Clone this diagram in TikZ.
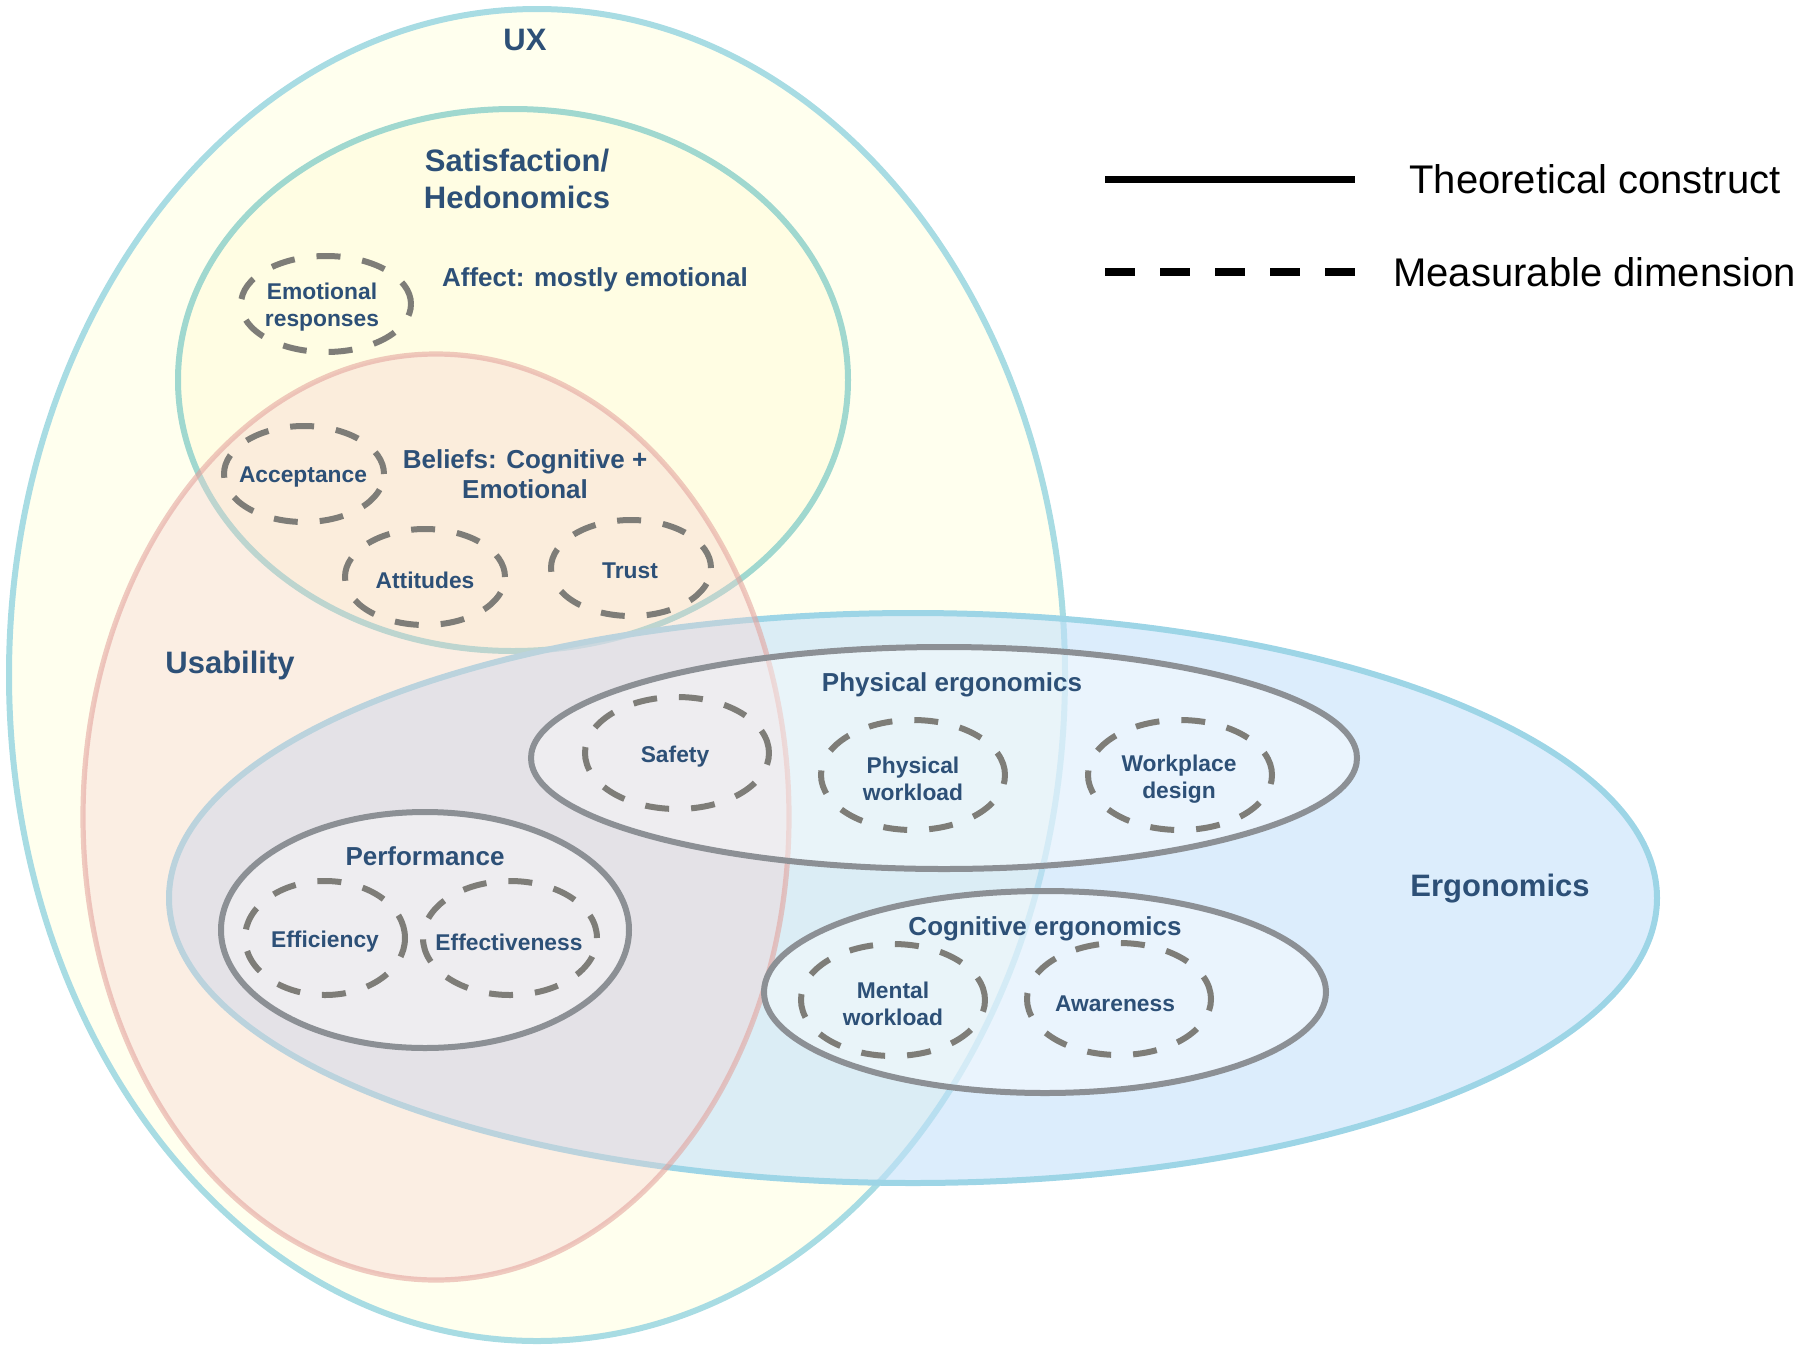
\documentclass[tikz,border=0pt]{standalone}
\usepackage{fontspec}
\setmainfont{Liberation Sans}
\usetikzlibrary{shapes.geometric}
\definecolor{uxfill}{HTML}{FFFFEE}
\definecolor{uxline}{HTML}{A8DCE3}
\definecolor{satfill}{HTML}{FFFDE3}
\definecolor{satline}{HTML}{A0D8CF}
\definecolor{ergofill}{HTML}{C4E1FA}
\definecolor{ergoline}{HTML}{9DD5E6}
\definecolor{usafill}{HTML}{F5D0CF}
\definecolor{usaline}{HTML}{E29F99}
\definecolor{grayline}{HTML}{8C9095}
\definecolor{dashgray}{HTML}{7E7D78}
\definecolor{labblue}{HTML}{2D5077}
\begin{document}
\begin{tikzpicture}[x=0.5pt,y=-0.5pt,
  region/.style={ellipse, inner sep=0pt, outer sep=0pt},
  construct/.style={region, draw=grayline, line width=3pt, fill=white, fill opacity=0.4, draw opacity=1},
  measure/.style={region, draw=dashgray, line width=3pt, dash pattern=on 12pt off 11pt},
  biglab/.style={font=\bfseries\fontsize{15.5}{18.5}\selectfont, text=labblue, align=center, inner sep=0pt, yshift=-2pt},
  midlab/.style={font=\bfseries\fontsize{13}{15.3}\selectfont, text=labblue, align=center, inner sep=0pt, yshift=-2pt},
  smalllab/.style={font=\bfseries\fontsize{11.4}{13.75}\selectfont, text=labblue, align=center, inner sep=0pt, yshift=-1.5pt},
  legtext/.style={font=\fontsize{20}{24}\selectfont, text=black, anchor=west, inner sep=0pt}]
\useasboundingbox (0,0) rectangle (1800,1350);
% main regions
\node[region, fill=uxfill, draw=uxline, line width=3pt, minimum width=528pt, minimum height=666pt] (ux) at (537,675) {};
\node[region, fill=satfill, draw=satline, line width=3pt, minimum width=335pt, minimum height=271pt] (sat) at (513,380) {};
\node[region, fill=ergofill, fill opacity=0.6, draw=ergoline, draw opacity=1, line width=3pt, minimum width=744pt, minimum height=285pt] (ergo) at (913,898) {};
\node[region, fill=usafill, fill opacity=0.35, draw=usaline, draw opacity=0.55, line width=2.6pt, minimum width=353pt, minimum height=463pt] (usa) at (436,817) {};
% theoretical constructs
\node[construct, minimum width=413pt, minimum height=111pt] (phys) at (944,758) {};
\node[construct, minimum width=281pt, minimum height=101pt] (cogn) at (1045,992) {};
\node[construct, minimum width=204pt, minimum height=118pt] (perf) at (425,930) {};
% measurable dimensions
\node[measure, minimum width=85pt, minimum height=48pt] (emo) at (326,304) {};
\node[measure, minimum width=80pt, minimum height=48pt] (acc) at (304,474) {};
\node[measure, minimum width=80pt, minimum height=48pt] (att) at (425,577) {};
\node[measure, minimum width=80pt, minimum height=48pt] (tru) at (631,568) {};
\node[measure, minimum width=92pt, minimum height=56pt] (saf) at (677,753) {};
\node[measure, minimum width=92pt, minimum height=55pt] (pwl) at (913,775) {};
\node[measure, minimum width=92pt, minimum height=55pt] (wpd) at (1180,775) {};
\node[measure, minimum width=80pt, minimum height=57pt] (effi) at (325,938) {};
\node[measure, minimum width=87pt, minimum height=57pt] (effe) at (510,938) {};
\node[measure, minimum width=92pt, minimum height=56pt] (mwl) at (893,1000) {};
\node[measure, minimum width=92pt, minimum height=56pt] (awa) at (1119,999) {};
% labels
\node[biglab] (ux-t) at (525,36) {UX};
\node[biglab] (sat-t) at (517,175) {Satisfaction/\\Hedonomics};
\node[midlab] (aff-t) at (595,276) {Affect: mostly emotional};
\node[midlab] (bel-t) at (525,470) {Beliefs: Cognitive +\\Emotional};
\node[biglab] (usa-t) at (230,661) {Usability};
\node[midlab] (phys-t) at (952,681) {Physical ergonomics};
\node[midlab] (perf-t) at (425,852) {Performance};
\node[midlab] (cogn-t) at (1045,925) {Cognitive ergonomics};
\node[biglab] (ergo-t) at (1500,885) {Ergonomics};
\node[smalllab] (emo-t) at (322,304) {Emotional\\responses};
\node[smalllab] (acc-t) at (303,474) {Acceptance};
\node[smalllab] (att-t) at (425,577) {Attitudes};
\node[smalllab] (tru-t) at (630,568) {Trust};
\node[smalllab] (saf-t) at (675,754) {Safety};
\node[smalllab] (pwl-t) at (913,776) {Physical\\workload};
\node[smalllab] (wpd-t) at (1179,776) {Workplace\\design};
\node[smalllab] (effi-t) at (325,939) {Efficiency};
\node[smalllab] (effe-t) at (509,939) {Effectiveness};
\node[smalllab] (mwl-t) at (893,1001) {Mental\\workload};
\node[smalllab] (awa-t) at (1115,1001) {Awareness};
% legend
\coordinate (ls1) at (1105,179);
\coordinate (ls2) at (1355,179);
\coordinate (ld1) at (1105,272);
\coordinate (ld2) at (1355,272);
\draw[line width=3.5pt] (ls1) -- (ls2);
\draw[line width=3.8pt, dash pattern=on 15pt off 12.5pt] (ld1) -- (ld2);
\node[legtext] (leg1) at (1409,179) {Theoretical construct};
\node[legtext] (leg2) at (1393,272) {Measurable dimension};
\end{tikzpicture}
\end{document}
